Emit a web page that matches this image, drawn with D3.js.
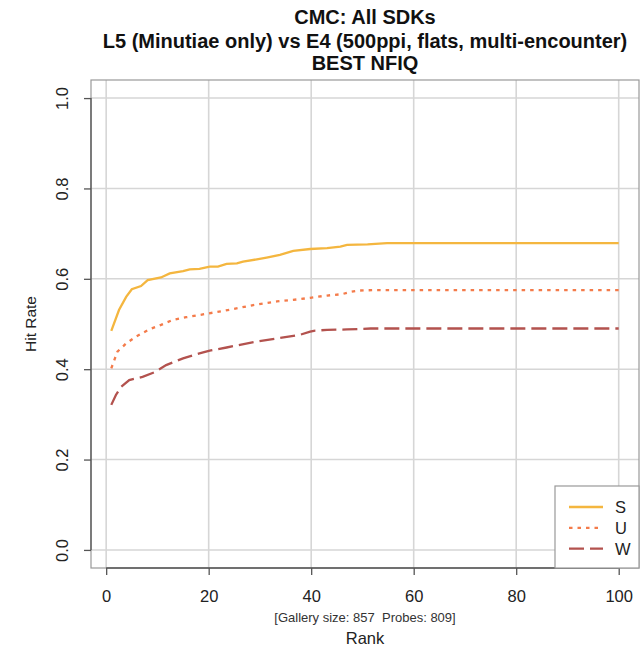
<!DOCTYPE html>
<html><head><meta charset="utf-8">
<script src="https://cdn.jsdelivr.net/npm/d3@7"></script>
<style>body{margin:0;background:#fff}svg{display:block}</style>
</head><body>
<svg id="c" width="644" height="652"></svg>
<script>
const titleLines = ["CMC: All SDKs", "L5 (Minutiae only) vs E4 (500ppi, flats, multi-encounter)", "BEST NFIQ"];
const xTicks = [0, 20, 40, 60, 80, 100];
const yTicks = [0.0, 0.2, 0.4, 0.6, 0.8, 1.0];
const seriesNames = ["S", "U", "W"];
const seriesColors = ["#F4B63F", "#F47B4A", "#B3524E"];
const seriesDash = ["none", "3.5,5", "15,6"];

const rankS = [1, 2.5, 3.9, 5, 6.8, 8.1, 10.7, 12.4, 15, 16.3, 18.2, 20.2, 21.8, 23.5, 25.5, 26.7, 29.4, 31.3, 33.9, 36.5, 39.8, 43.1, 45.7, 47, 51, 54.8, 100];
const valS  = [0.485, 0.531, 0.560, 0.577, 0.584, 0.597, 0.603, 0.612, 0.617, 0.621, 0.622, 0.627, 0.627, 0.633, 0.634, 0.638, 0.643, 0.647, 0.653, 0.662, 0.666, 0.668, 0.671, 0.675, 0.676, 0.679, 0.679];

const rankU = [1, 2.2, 3.9, 5.8, 8.4, 10.7, 13, 15.6, 18.2, 20.8, 24.8, 28.7, 33.3, 37.8, 39.8, 43.1, 46, 47.6, 49.3, 52, 100];
const valU  = [0.402, 0.439, 0.457, 0.472, 0.488, 0.498, 0.509, 0.515, 0.520, 0.525, 0.533, 0.542, 0.550, 0.555, 0.558, 0.563, 0.566, 0.571, 0.574, 0.575, 0.575];

const rankW = [1, 1.9, 2.9, 4.5, 7.1, 9.4, 11.7, 15, 18.2, 20.2, 23.5, 26.1, 29.4, 33.3, 37.8, 39.8, 40.5, 43.1, 47, 51.6, 100];
const valW  = [0.321, 0.343, 0.361, 0.376, 0.383, 0.393, 0.409, 0.424, 0.435, 0.441, 0.448, 0.454, 0.461, 0.468, 0.476, 0.483, 0.485, 0.487, 0.488, 0.490, 0.490];

const footnote = "[Gallery size: 857  Probes: 809]";
const xLabel = "Rank";
const yLabel = "Hit Rate";

const svg = d3.select("#c");
const font = "'Liberation Sans', Arial, sans-serif";
const L = 91, R = 639, T = 80, B = 568;

const x = d3.scaleLinear().domain([-2.96, 103.96]).range([L, R]);
const y = d3.scaleLinear().domain([-0.04, 1.04]).range([B, T]);

// grid
const g = svg.append("g");
g.selectAll("line.vx").data(xTicks).join("line")
  .attr("x1", d => x(d)).attr("x2", d => x(d)).attr("y1", T).attr("y2", B)
  .attr("stroke", "#d6d6d6").attr("stroke-width", 1.6);
g.selectAll("line.hy").data(yTicks).join("line")
  .attr("x1", L).attr("x2", R).attr("y1", d => y(d)).attr("y2", d => y(d))
  .attr("stroke", "#d6d6d6").attr("stroke-width", 1.6);

// box
svg.append("rect").attr("x", L).attr("y", T).attr("width", R - L).attr("height", B - T)
  .attr("fill", "none").attr("stroke", "#999").attr("stroke-width", 1.2);

// axes
const xAxis = d3.axisBottom(x).tickValues(xTicks).tickSize(7).tickPadding(15).tickFormat(d3.format("d"));
const gx = svg.append("g").attr("transform", `translate(0,${B})`).call(xAxis);
gx.select(".domain").attr("d", `M${x(0)},0H${x(100)}`).attr("stroke", "#555").attr("stroke-width", 1.3);
gx.selectAll(".tick line").attr("stroke", "#555").attr("stroke-width", 1.3);
gx.selectAll(".tick text").attr("font-family", font).attr("font-size", 16.5).attr("fill", "#222");

const yAxis = d3.axisLeft(y).tickValues(yTicks).tickSize(7).tickFormat(d3.format(".1f"));
const gy = svg.append("g").attr("transform", `translate(${L},0)`).call(yAxis);
gy.select(".domain").attr("d", `M0,${y(0)}V${y(1)}`).attr("stroke", "#555").attr("stroke-width", 1.3);
gy.selectAll(".tick line").attr("stroke", "#555").attr("stroke-width", 1.3);
gy.selectAll(".tick text").attr("font-family", font).attr("font-size", 16.5).attr("fill", "#222")
  .attr("transform", "rotate(-90)").attr("x", 0).attr("y", -29).attr("dy", "0.35em").attr("text-anchor", "middle");

// lines
const series = [
  {ranks: rankS, vals: valS},
  {ranks: rankU, vals: valU},
  {ranks: rankW, vals: valW}
];
const line = d3.line().x(d => x(d[0])).y(d => y(d[1]));
series.forEach((s, i) => {
  const pts = s.ranks.map((r, j) => [r, s.vals[j]]);
  svg.append("path").datum(pts).attr("d", line).attr("fill", "none")
    .attr("stroke", seriesColors[i]).attr("stroke-width", 2.3)
    .attr("stroke-dasharray", seriesDash[i]);
});

// legend
const lg = svg.append("g");
lg.append("rect").attr("x", 555).attr("y", 486).attr("width", R - 555).attr("height", B - 486)
  .attr("fill", "#fff").attr("stroke", "#999").attr("stroke-width", 1.2);
seriesNames.forEach((n, i) => {
  const yy = 507 + i * 20.8;
  lg.append("line").attr("x1", 569).attr("x2", 603).attr("y1", yy).attr("y2", yy)
    .attr("stroke", seriesColors[i]).attr("stroke-width", 2.3).attr("stroke-dasharray", seriesDash[i]);
  lg.append("text").attr("x", 615).attr("y", yy).attr("dy", "0.36em")
    .attr("font-family", font).attr("font-size", 16.5).attr("fill", "#222").text(n);
});

// titles
const cx = (L + R) / 2;
const titleY = [24, 48, 70];
titleLines.forEach((t, i) => {
  svg.append("text").attr("x", cx).attr("y", titleY[i]).attr("text-anchor", "middle")
    .attr("font-family", font).attr("font-weight", "bold").attr("font-size", 20).attr("fill", "#111").text(t);
});
svg.append("text").attr("x", cx).attr("y", 622).attr("text-anchor", "middle")
  .attr("xml:space", "preserve").style("white-space", "pre")
  .attr("font-family", font).attr("font-size", 13).attr("fill", "#333").text(footnote);
svg.append("text").attr("x", cx).attr("y", 644).attr("text-anchor", "middle")
  .attr("font-family", font).attr("font-size", 16.5).attr("fill", "#222").text(xLabel);
svg.append("text").attr("transform", `translate(36,${(T + B) / 2}) rotate(-90)`).attr("text-anchor", "middle")
  .attr("font-family", font).attr("font-size", 15.5).attr("fill", "#222").text(yLabel);
</script>
</body></html>
